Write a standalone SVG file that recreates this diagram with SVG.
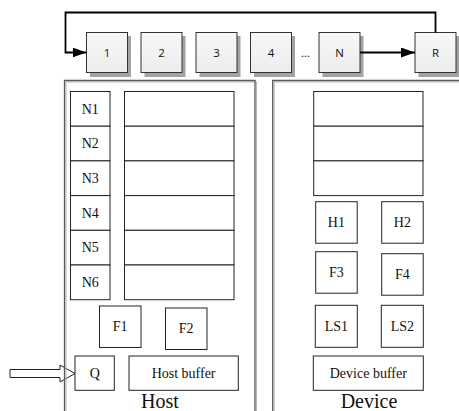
<svg xmlns="http://www.w3.org/2000/svg" width="459" height="411" viewBox="0 0 459 411">
  <defs>
    <linearGradient id="boxFill" x1="0" y1="0" x2="0" y2="1">
      <stop offset="0" stop-color="#f8f8f8"/>
      <stop offset="1" stop-color="#ececec"/>
    </linearGradient>
    <marker id="arrow" viewBox="0 0 14 10" refX="14" refY="5" markerWidth="14" markerHeight="10" markerUnits="userSpaceOnUse" orient="auto">
      <path d="M0,0 L14,5 L0,10 z" fill="#000"/>
    </marker>
  </defs>
  <style>
    .shadow { fill: #a3a3a3; }
    .qbox { fill: url(#boxFill); stroke: #333; stroke-width: 1; }
    .qlabel { font-family: "Open Sans", "Liberation Sans", sans-serif; font-size: 11.5px; fill: #111; text-anchor: middle; }
    .panel { fill: none; stroke: #5a5a5a; stroke-width: 1.3; }
    .panelShade { fill: none; stroke: #b5b5b5; stroke-width: 1; }
    .cell { fill: #fff; stroke: #222; stroke-width: 1; }
    .lbl { font-family: "Liberation Serif", "Times New Roman", serif; font-size: 14px; fill: #111; text-anchor: middle; }
    .title { font-family: "Liberation Serif", "Times New Roman", serif; font-size: 20px; fill: #111; text-anchor: middle; }
    .link { fill: none; stroke: #000; stroke-width: 1.8; }
  </style>

  <!-- queue slots across the top -->
  <g id="slot-1">
    <rect class="shadow" x="90" y="36" width="41" height="41"/>
    <rect class="qbox" x="86.5" y="32.5" width="41" height="40"/>
    <text class="qlabel" x="107" y="57">1</text>
  </g>
  <g id="slot-2">
    <rect class="shadow" x="144.5" y="36" width="41" height="41"/>
    <rect class="qbox" x="141" y="32.5" width="41" height="40"/>
    <text class="qlabel" x="161.5" y="57">2</text>
  </g>
  <g id="slot-3">
    <rect class="shadow" x="199.5" y="36" width="41" height="41"/>
    <rect class="qbox" x="196" y="32.5" width="41" height="40"/>
    <text class="qlabel" x="216.5" y="57">3</text>
  </g>
  <g id="slot-4">
    <rect class="shadow" x="254" y="36" width="41" height="41"/>
    <rect class="qbox" x="250.5" y="32.5" width="41" height="40"/>
    <text class="qlabel" x="271" y="57">4</text>
  </g>
  <text id="ellipsis" class="qlabel" x="305.5" y="57">...</text>
  <g id="slot-N">
    <rect class="shadow" x="322.5" y="36" width="41" height="41"/>
    <rect class="qbox" x="319" y="32.5" width="41" height="40"/>
    <text class="qlabel" x="339.5" y="57">N</text>
  </g>
  <g id="slot-R">
    <rect class="shadow" x="418.5" y="36" width="41" height="41"/>
    <rect class="qbox" x="415" y="32.5" width="41" height="40"/>
    <text class="qlabel" x="435.5" y="57">R</text>
  </g>

  <!-- connectors -->
  <g id="connectors">
    <path class="link" d="M435.5,32.5 V12.5 H65.5 V52.5 H86.5" marker-end="url(#arrow)"/>
    <path class="link" d="M360,52.5 H415" marker-end="url(#arrow)"/>
    <path id="input-arrow" d="M10,369.5 H60 V365 L75,373.5 L60,382 V377.5 H10 z" fill="#fff" stroke="#222" stroke-width="1"/>
  </g>

  <!-- host side -->
  <g id="host">
    <path class="panelShade" d="M66,411 V82 H256.5 V411"/>
    <path class="panel" d="M64.5,411 V80.5 H255 V411"/>
    <text class="title" x="160" y="408">Host</text>
  </g>
  <g id="host-nodes">
    <rect class="cell" x="70.5" y="91.5" width="39.5" height="34.7"/>
    <text class="lbl" x="90.3" y="113.5">N1</text>
    <rect class="cell" x="70.5" y="126.2" width="39.5" height="34.7"/>
    <text class="lbl" x="90.3" y="148.2">N2</text>
    <rect class="cell" x="70.5" y="160.9" width="39.5" height="34.7"/>
    <text class="lbl" x="90.3" y="182.9">N3</text>
    <rect class="cell" x="70.5" y="195.6" width="39.5" height="34.7"/>
    <text class="lbl" x="90.3" y="217.6">N4</text>
    <rect class="cell" x="70.5" y="230.3" width="39.5" height="34.7"/>
    <text class="lbl" x="90.3" y="252.3">N5</text>
    <rect class="cell" x="70.5" y="265" width="39.5" height="34.7"/>
    <text class="lbl" x="90.3" y="287">N6</text>
  </g>
  <g id="host-table">
    <rect class="cell" x="124.5" y="91.5" width="109.5" height="34.7"/>
    <rect class="cell" x="124.5" y="126.2" width="109.5" height="34.7"/>
    <rect class="cell" x="124.5" y="160.9" width="109.5" height="34.7"/>
    <rect class="cell" x="124.5" y="195.6" width="109.5" height="34.7"/>
    <rect class="cell" x="124.5" y="230.3" width="109.5" height="34.7"/>
    <rect class="cell" x="124.5" y="265" width="109.5" height="34.7"/>
  </g>
  <g id="F1">
    <rect class="cell" x="99.5" y="306" width="41.5" height="41.5"/>
    <text class="lbl" x="120.2" y="331">F1</text>
  </g>
  <g id="F2">
    <rect class="cell" x="165.5" y="308" width="41.5" height="41.5"/>
    <text class="lbl" x="186.2" y="333">F2</text>
  </g>
  <g id="Q">
    <rect class="cell" x="75" y="356" width="39.3" height="34.3"/>
    <text class="lbl" x="94.7" y="378">Q</text>
  </g>
  <g id="host-buffer">
    <rect class="cell" x="129" y="356" width="109.3" height="34.3"/>
    <text class="lbl" x="183.6" y="378">Host buffer</text>
  </g>

  <!-- device side -->
  <g id="device">
    <path class="panelShade" d="M274.2,411 V82 H459"/>
    <path class="panel" d="M272.7,411 V80.5 H459"/>
    <text class="title" x="369" y="408">Device</text>
  </g>
  <g id="device-table">
    <rect class="cell" x="313.7" y="91.5" width="109.3" height="34.7"/>
    <rect class="cell" x="313.7" y="126.2" width="109.3" height="34.7"/>
    <rect class="cell" x="313.7" y="160.9" width="109.3" height="34.7"/>
  </g>
  <g id="H1">
    <rect class="cell" x="315.7" y="201.7" width="41.5" height="41.5"/>
    <text class="lbl" x="336.4" y="227">H1</text>
  </g>
  <g id="H2">
    <rect class="cell" x="381.7" y="201.7" width="41.5" height="41.5"/>
    <text class="lbl" x="402.4" y="227">H2</text>
  </g>
  <g id="F3">
    <rect class="cell" x="315.7" y="251.7" width="41.5" height="41.5"/>
    <text class="lbl" x="336.4" y="277">F3</text>
  </g>
  <g id="F4">
    <rect class="cell" x="381.7" y="253.7" width="41.5" height="41.5"/>
    <text class="lbl" x="402.4" y="279">F4</text>
  </g>
  <g id="LS1">
    <rect class="cell" x="315.3" y="305.3" width="42" height="42"/>
    <text class="lbl" x="336.3" y="331">LS1</text>
  </g>
  <g id="LS2">
    <rect class="cell" x="381.3" y="305.3" width="42" height="42"/>
    <text class="lbl" x="402.3" y="331">LS2</text>
  </g>
  <g id="device-buffer">
    <rect class="cell" x="313.3" y="356" width="110" height="34.3"/>
    <text class="lbl" x="368.3" y="378">Device buffer</text>
  </g>
</svg>
